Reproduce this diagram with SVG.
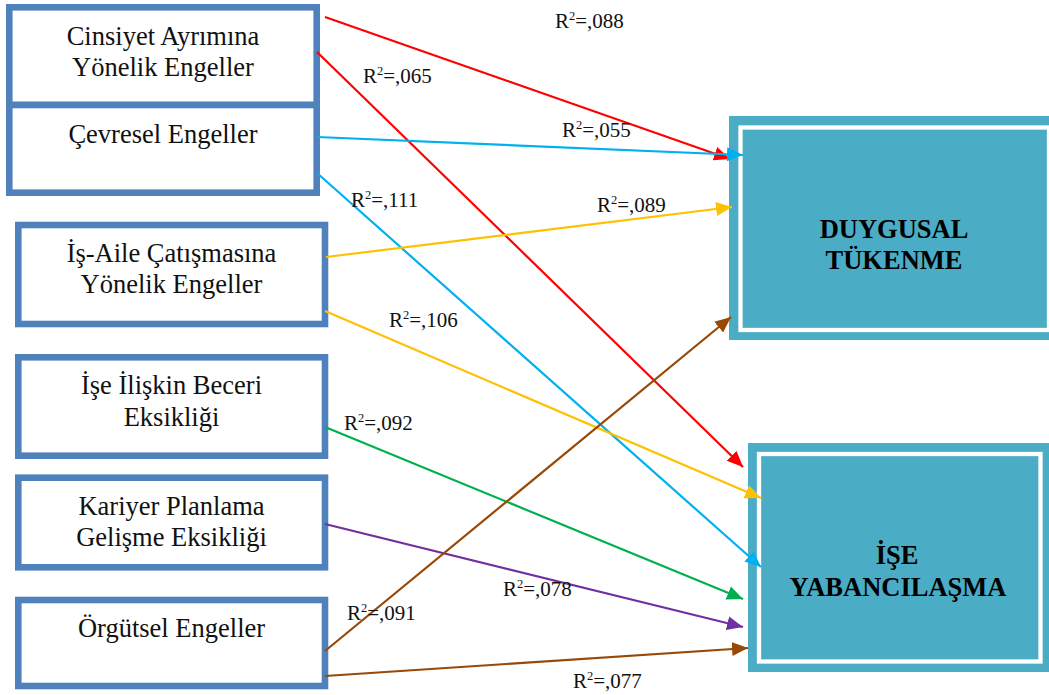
<svg xmlns="http://www.w3.org/2000/svg" width="1049" height="695" viewBox="0 0 1049 695">
<style>
.src{fill:#fff;stroke:#4F81BD;stroke-width:6.6}
.tgt{fill:#4BACC6}
.gap{fill:none;stroke:#fff;stroke-width:4.3}
.t{font-family:"Liberation Serif","Times New Roman",serif;font-size:26.5px;fill:#111;text-anchor:middle}
.b{font-family:"Liberation Serif","Times New Roman",serif;font-size:26.5px;font-weight:bold;fill:#000;text-anchor:middle}
.lbl{font-family:"Liberation Serif","Times New Roman",serif;font-size:21px;fill:#111}
.sup{font-size:12.5px}
.c{fill:none;stroke-width:2.2}
</style>
<defs>
<marker id="aR" markerUnits="userSpaceOnUse" markerWidth="20" markerHeight="16" refX="16" refY="7" orient="auto" viewBox="0 0 20 14"><path d="M0,0 L16,7 L0,14 Z" fill="#FF0000"/></marker>
<marker id="aB" markerUnits="userSpaceOnUse" markerWidth="20" markerHeight="16" refX="16" refY="7" orient="auto" viewBox="0 0 20 14"><path d="M0,0 L16,7 L0,14 Z" fill="#00B0F0"/></marker>
<marker id="aY" markerUnits="userSpaceOnUse" markerWidth="20" markerHeight="16" refX="16" refY="7" orient="auto" viewBox="0 0 20 14"><path d="M0,0 L16,7 L0,14 Z" fill="#FFC000"/></marker>
<marker id="aG" markerUnits="userSpaceOnUse" markerWidth="20" markerHeight="16" refX="16" refY="7" orient="auto" viewBox="0 0 20 14"><path d="M0,0 L16,7 L0,14 Z" fill="#00B050"/></marker>
<marker id="aP" markerUnits="userSpaceOnUse" markerWidth="20" markerHeight="16" refX="16" refY="7" orient="auto" viewBox="0 0 20 14"><path d="M0,0 L16,7 L0,14 Z" fill="#7030A0"/></marker>
<marker id="aN" markerUnits="userSpaceOnUse" markerWidth="20" markerHeight="16" refX="16" refY="7" orient="auto" viewBox="0 0 20 14"><path d="M0,0 L16,7 L0,14 Z" fill="#984807"/></marker>
</defs>
<rect width="1049" height="695" fill="#fff"/>

<g id="n-cinsiyet">
<rect class="src" x="9.3" y="7.3" width="307.4" height="97.7"/>
<text class="t" x="163" y="45">Cinsiyet Ayrımına</text>
<text class="t" x="163" y="76">Yönelik Engeller</text>
</g>
<g id="n-cevresel">
<rect class="src" x="9.3" y="105" width="307.4" height="87.7"/>
<text class="t" x="163" y="143">Çevresel Engeller</text>
</g>
<g id="n-isaile">
<rect class="src" x="18.3" y="225" width="306.7" height="99"/>
<text class="t" x="171.5" y="262">İş-Aile Çatışmasına</text>
<text class="t" x="171.5" y="292.5">Yönelik Engeller</text>
</g>
<g id="n-beceri">
<rect class="src" x="18.3" y="357.3" width="306.7" height="98.4"/>
<text class="t" x="171.5" y="394">İşe İlişkin Beceri</text>
<text class="t" x="171.5" y="425.5">Eksikliği</text>
</g>
<g id="n-kariyer">
<rect class="src" x="18.3" y="477.7" width="306.7" height="89.6"/>
<text class="t" x="171.5" y="515">Kariyer Planlama</text>
<text class="t" x="171.5" y="545.5">Gelişme Eksikliği</text>
</g>
<g id="n-orgutsel">
<rect class="src" x="18.3" y="600" width="306.7" height="86"/>
<text class="t" x="171.5" y="637">Örgütsel Engeller</text>
</g>

<g id="n-duygusal">
<rect class="tgt" x="729" y="116" width="330" height="224"/>
<rect class="gap" x="740.5" y="127.5" width="308.5" height="202.5"/>
<text class="b" x="894" y="238">DUYGUSAL</text>
<text class="b" x="894" y="269">TÜKENME</text>
</g>
<g id="n-yabancilasma">
<rect class="tgt" x="748" y="443" width="310" height="229"/>
<rect class="gap" x="759" y="454" width="281.5" height="207.5"/>
<text class="b" x="897" y="564">İŞE</text>
<text class="b" x="898" y="596">YABANCILAŞMA</text>
</g>

<g id="connectors">
<line class="c" stroke="#FF0000" x1="325" y1="17" x2="730" y2="159" marker-end="url(#aR)"/>
<line class="c" stroke="#FF0000" x1="317" y1="52" x2="743" y2="467" marker-end="url(#aR)"/>
<line class="c" stroke="#00B0F0" x1="317" y1="137" x2="743" y2="155" marker-end="url(#aB)"/>
<line class="c" stroke="#00B0F0" x1="317" y1="173" x2="761" y2="567" marker-end="url(#aB)"/>
<line class="c" stroke="#FFC000" x1="326" y1="257" x2="732" y2="207" marker-end="url(#aY)"/>
<line class="c" stroke="#FFC000" x1="325" y1="311" x2="761" y2="498" marker-end="url(#aY)"/>
<line class="c" stroke="#00B050" x1="325" y1="427" x2="743" y2="599" marker-end="url(#aG)"/>
<line class="c" stroke="#7030A0" x1="325" y1="524" x2="743" y2="627" marker-end="url(#aP)"/>
<line class="c" stroke="#984807" x1="325" y1="651" x2="731" y2="317" marker-end="url(#aN)"/>
<line class="c" stroke="#984807" x1="325" y1="676" x2="748" y2="648" marker-end="url(#aN)"/>
</g>

<g id="labels">
<text class="lbl" x="555" y="28">R<tspan class="sup" dy="-8">2</tspan><tspan dy="8">=,088</tspan></text>
<text class="lbl" x="363" y="83">R<tspan class="sup" dy="-8">2</tspan><tspan dy="8">=,065</tspan></text>
<text class="lbl" x="562" y="137">R<tspan class="sup" dy="-8">2</tspan><tspan dy="8">=,055</tspan></text>
<text class="lbl" x="351" y="207">R<tspan class="sup" dy="-8">2</tspan><tspan dy="8">=,111</tspan></text>
<text class="lbl" x="597" y="212">R<tspan class="sup" dy="-8">2</tspan><tspan dy="8">=,089</tspan></text>
<text class="lbl" x="389" y="327">R<tspan class="sup" dy="-8">2</tspan><tspan dy="8">=,106</tspan></text>
<text class="lbl" x="344" y="430">R<tspan class="sup" dy="-8">2</tspan><tspan dy="8">=,092</tspan></text>
<text class="lbl" x="503" y="596">R<tspan class="sup" dy="-8">2</tspan><tspan dy="8">=,078</tspan></text>
<text class="lbl" x="347" y="620">R<tspan class="sup" dy="-8">2</tspan><tspan dy="8">=,091</tspan></text>
<text class="lbl" x="573" y="688">R<tspan class="sup" dy="-8">2</tspan><tspan dy="8">=,077</tspan></text>
</g>
</svg>
